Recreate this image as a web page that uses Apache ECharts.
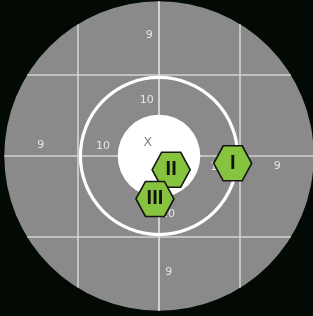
<!DOCTYPE html>
<html><head><meta charset="utf-8">
<script src="https://cdn.jsdelivr.net/npm/echarts@6/dist/echarts.min.js"></script>
<style>html,body{margin:0;padding:0;background:#030a04;}#c{width:313px;height:316px;}</style>
</head><body><div id="c"></div>
<script>
// Target geometry (data units: 1 unit = one grid square)
const targetRadius = 1.91;
const ringRadius = 0.97;
const xRingRadius = 0.51;
const gridLines = [-1, 0, 1];
// Score labels printed on the target
const labelText = ['9', '10', 'X', '9', '10', '9', '10', '10', '9'];
const labelX = [-0.12, -0.15, -0.14, -1.46, -0.69, 1.46, 0.72, 0.11, 0.12];
const labelY = [1.49, 0.69, 0.17, 0.14, 0.12, -0.12, -0.14, -0.72, -1.44];
// Shots
const shotNames = ['I', 'II', 'III'];
const shotX = [0.91, 0.15, -0.05];
const shotY = [-0.09, -0.17, -0.53];

const chart = echarts.init(document.getElementById('c'));

function targetRender(params, api) {
  const c = api.coord([0, 0]);
  const px = api.size([1, 1]);
  const children = [];
  children.push({ type: 'circle', shape: { cx: c[0], cy: c[1], r: targetRadius * px[0] }, style: { fill: '#8a8a8a' } });
  gridLines.forEach(function (g) {
    const h = Math.sqrt(targetRadius * targetRadius - g * g);
    const a = api.coord([g, -h]), b = api.coord([g, h]);
    children.push({ type: 'line', shape: { x1: a[0], y1: a[1], x2: b[0], y2: b[1] }, style: { stroke: '#d2d2d2', lineWidth: g === 0 ? 2 : 1.6 } });
    const d = api.coord([-h, g]), e = api.coord([h, g]);
    children.push({ type: 'line', shape: { x1: d[0], y1: d[1], x2: e[0], y2: e[1] }, style: { stroke: '#d2d2d2', lineWidth: 1.6 } });
  });
  children.push({ type: 'circle', shape: { cx: c[0], cy: c[1], r: ringRadius * px[0] }, style: { fill: 'none', stroke: '#ffffff', lineWidth: 3.2 } });
  children.push({ type: 'circle', shape: { cx: c[0], cy: c[1], r: xRingRadius * px[0] }, style: { fill: '#ffffff' } });
  labelText.forEach(function (t, i) {
    const p = api.coord([labelX[i], labelY[i]]);
    children.push({ type: 'text', style: { text: t, x: p[0], y: p[1], fill: t === 'X' ? '#8a8a8a' : '#e6e6e6', fontSize: t === 'X' ? 13 : 11, fontFamily: 'DejaVu Sans', align: 'center', verticalAlign: 'middle' } });
  });
  return { type: 'group', children: children };
}

chart.setOption({
  backgroundColor: '#030a04',
  animation: false,
  grid: { left: 0, right: 0, top: 0, bottom: 0 },
  xAxis: { type: 'value', min: -159 / 81, max: 154 / 81, show: false },
  yAxis: { type: 'value', min: -160 / 81, max: 156 / 81, show: false },
  series: [
    { type: 'custom', renderItem: targetRender, data: [[0, 0]], silent: true, clip: false },
    {
      type: 'scatter',
      symbol: 'path://M0,5 L2.5,0 L7.5,0 L10,5 L7.5,10 L2.5,10 Z',
      symbolSize: [38, 35],
      itemStyle: { color: '#86c440', borderColor: '#151515', borderWidth: 1.6, opacity: 1 },
      label: { show: true, position: 'inside', formatter: function (p) { return p.name; }, fontFamily: 'Liberation Sans', fontWeight: 'bold', fontSize: 20, color: '#111111' },
      data: shotNames.map(function (n, i) { return { name: n, value: [shotX[i], shotY[i]] }; })
    }
  ]
});
</script></body></html>
